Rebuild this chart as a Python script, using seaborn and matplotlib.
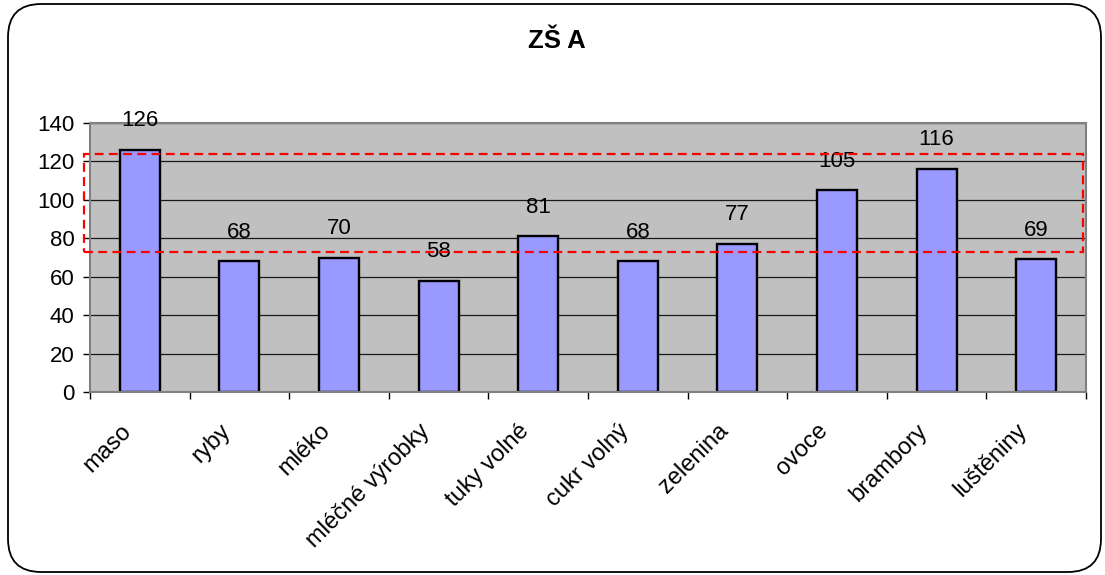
import matplotlib
matplotlib.use("Agg")
import matplotlib.pyplot as plt
import matplotlib.transforms as mtransforms
from matplotlib.patches import Rectangle, FancyBboxPatch
import seaborn as sns
import pandas as pd

# Food categories and consumption values
categories = ["maso", "ryby", "mléko", "mléčné výrobky", "tuky volné",
              "cukr volný", "zelenina", "ovoce", "brambory", "luštěniny"]
values = [126, 68, 70, 58, 81, 68, 77, 105, 116, 69]
y_ticks = [0, 20, 40, 60, 80, 100, 120, 140]
title = "ZŠ A"

# Recommended range highlighted by the dashed frame
band_low, band_high = 73, 124

sns.set_theme(style="white")
plt.rcParams["font.family"] = ["Liberation Sans", "DejaVu Sans"]

df = pd.DataFrame({"kategorie": categories, "hodnota": values})

fig = plt.figure(figsize=(11.05, 5.75), dpi=100)
fig.patch.set_facecolor("white")

# Rounded frame around the whole chart
frame = FancyBboxPatch((8 / 1105, 3 / 575), 1093 / 1105, 568 / 575,
                       boxstyle="round,pad=0,rounding_size=0.03",
                       transform=fig.transFigure, fill=False,
                       edgecolor="black", linewidth=1.3,
                       mutation_aspect=1105 / 575)
fig.patches.append(frame)

ax = fig.add_axes([90 / 1105, 1 - 392 / 575, 996 / 1105, 269 / 575])
ax.set_facecolor("#C0C0C0")

sns.barplot(data=df, x="kategorie", y="hodnota", ax=ax, color="#9999FF",
            saturation=1, width=0.4, edgecolor="black", linewidth=1.7)

ax.set_xlim(-0.5, len(categories) - 0.5)
ax.set_ylim(0, 140)
ax.set_yticks(y_ticks)
ax.set_xlabel("")
ax.set_ylabel("")

ax.yaxis.grid(True, color="#1a1a1a", linewidth=0.9)
ax.set_axisbelow(True)
for side in ["top", "right", "left", "bottom"]:
    ax.spines[side].set_color("#808080")
    ax.spines[side].set_linewidth(1.5)

ax.tick_params(axis="y", which="major", left=True, length=5, width=1,
               color="black", pad=6, labelsize=16, labelcolor="black")

# Category ticks sit on the boundaries between bars
ax.set_xticks([i - 0.5 for i in range(len(categories) + 1)], minor=True)
ax.tick_params(axis="x", which="minor", bottom=True, length=5, width=1,
               color="black")
ax.tick_params(axis="x", which="major", bottom=False, length=0, pad=20,
               labelsize=17, labelcolor="black")
shift = mtransforms.ScaledTranslation(-20 / 100, 0, fig.dpi_scale_trans)
for lab in ax.get_xticklabels():
    lab.set_rotation(45)
    lab.set_rotation_mode("anchor")
    lab.set_ha("right")
    lab.set_va("top")
    lab.set_transform(lab.get_transform() + shift)

# Value labels above the bars
for i, v in enumerate(values):
    ax.annotate(f"{v}", (i, v), xytext=(0, 21), textcoords="offset points",
                ha="center", va="center", fontsize=16, color="black")

# Dashed red frame marking the range
rect = Rectangle((-0.56, band_low), 10.03, band_high - band_low,
                 fill=False, edgecolor="#FF0000", linewidth=1.6,
                 linestyle=(0, (4, 2.4)), clip_on=False, zorder=5)
ax.add_patch(rect)

fig.text(557 / 1105, 1 - 48 / 575, title, ha="center", va="baseline",
         fontsize=18.5, fontweight="bold", color="black")

fig.savefig("out.png", dpi=100, facecolor="white")
